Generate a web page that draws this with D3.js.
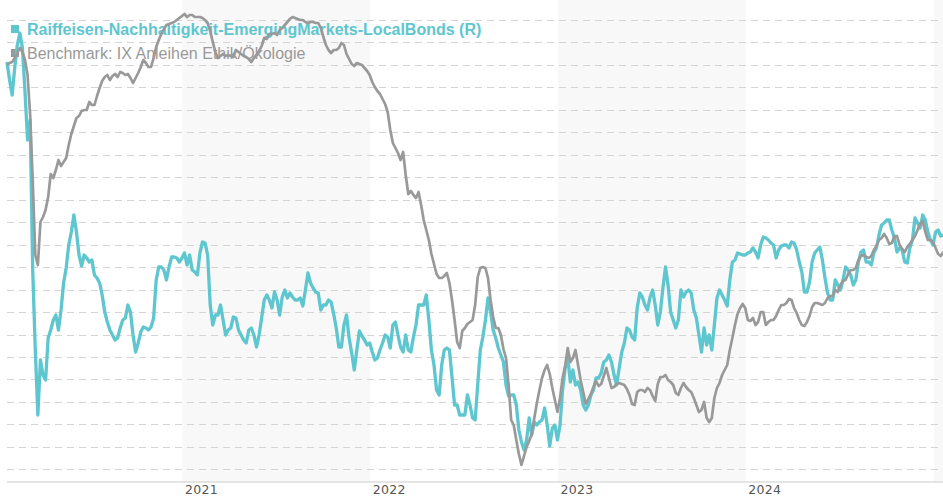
<!DOCTYPE html>
<html>
<head>
<meta charset="utf-8">
<script src="https://cdn.jsdelivr.net/npm/d3@7"></script>
<style>
  html, body { margin: 0; padding: 0; background: #ffffff; }
  svg { display: block; }
</style>
</head>
<body>
<svg id="chart" width="943" height="500"></svg>
<script>
// ---------- DATA ----------
const seriesNames = [
  "Raiffeisen-Nachhaltigkeit-EmergingMarkets-LocalBonds (R)",
  "Benchmark: IX Anleihen Ethik/Ökologie"
];
const startDate = "2020-01-26";   // first observation
const stepDays = 5;               // observations every 5 days
const yearLabels = ["2021", "2022", "2023", "2024"];
const shadedYears = ["2021", "2023", "2025"];

// values (arbitrary index units, no y labels shown)
const fundValues = [
  420, 402, 387, 414, 437, 449, 434, 390, 342, 362,
  212, 132, 67, 122, 107, 102, 144, 152, 162, 167,
  152, 172, 199, 214, 237, 250, 267, 250, 227, 216,
  227, 224, 220, 222, 207, 204, 199, 187, 170, 160,
  152, 147, 142, 144, 154, 162, 164, 177, 170, 147,
  130, 139, 150, 155, 154, 152, 155, 164, 202, 215,
  215, 212, 202, 215, 225, 225, 224, 220, 224, 229,
  217, 227, 212, 210, 207, 229, 240, 239, 227, 177,
  157, 167, 167, 177, 162, 147, 152, 154, 165, 164,
  152, 147, 142, 139, 152, 154, 147, 135, 147, 164,
  182, 187, 182, 174, 190, 182, 167, 185, 192, 184,
  189, 185, 182, 182, 184, 176, 192, 209, 199, 194,
  190, 189, 172, 177, 177, 182, 180, 168, 154, 135,
  135, 157, 167, 144, 129, 112, 132, 151, 146, 142,
  137, 139, 130, 122, 124, 132, 139, 147, 145, 134,
  157, 160, 147, 135, 130, 147, 132, 130, 145, 157,
  177, 177, 177, 187, 162, 132, 117, 92, 87, 117,
  132, 134, 132, 105, 77, 77, 67, 67, 67, 87,
  77, 64, 62, 97, 132, 145, 162, 184, 170, 152,
  144, 134, 127, 120, 97, 86, 87, 87, 77, 52,
  40, 32, 42, 64, 47, 60, 57, 60, 62, 74,
  57, 36, 54, 57, 42, 57, 92, 114, 125, 100,
  112, 97, 100, 92, 77, 72, 77, 87, 92, 104,
  104, 109, 120, 122, 127, 120, 107, 97, 114, 130,
  139, 154, 152, 145, 142, 174, 189, 185, 177, 172,
  185, 192, 177, 157, 170, 194, 215, 197, 170, 162,
  154, 162, 192, 185, 190, 192, 189, 172, 164, 147,
  130, 154, 137, 147, 132, 157, 184, 192, 187, 182,
  176, 202, 220, 222, 229, 228, 227, 227, 229, 230,
  234, 230, 224, 237, 245, 244, 242, 239, 237, 224,
  232, 236, 237, 237, 234, 240, 239, 232, 220, 210,
  190, 190, 200, 220, 229, 232, 235, 222, 204, 189,
  182, 182, 202, 197, 192, 202, 215, 212, 207, 197,
  202, 220, 230, 232, 220, 220, 217, 229, 234, 247,
  257, 259, 262, 262, 252, 244, 230, 234, 232, 220,
  219, 234, 242, 264, 259, 254, 267, 262, 250, 242,
  237, 250, 252, 246, 247
];
const benchmarkValues = [
  417, 419, 420, 424, 429, 434, 430, 422, 407, 367,
  302, 227, 217, 260, 265, 272, 285, 308, 304, 312,
  322, 316, 320, 324, 337, 348, 356, 364, 366, 371,
  372, 372, 380, 377, 377, 386, 394, 401, 405, 407,
  402, 406, 408, 405, 410, 409, 407, 408, 404, 399,
  404, 409, 415, 422, 419, 415, 415, 424, 435, 442,
  448, 453, 457, 458, 459, 460, 462, 464, 466, 468,
  465, 467, 467, 465, 465, 465, 464, 462, 459, 451,
  440, 430, 424, 426, 428, 426, 427, 426, 425, 432,
  430, 428, 426, 425, 423, 420, 424, 427, 431, 436,
  444, 443, 448, 448, 449, 447, 452, 454, 457, 460,
  463, 465, 464, 463, 462, 462, 460, 459, 460, 460,
  459, 459, 454, 445, 437, 432, 429, 432, 432, 434,
  439, 437, 428, 423, 418, 416, 419, 418, 417, 414,
  411, 407, 400, 395, 391, 388, 383, 378, 370, 352,
  339, 334, 329, 322, 330, 307, 288, 291, 287, 284,
  290, 277, 262, 252, 242, 228, 218, 208, 204, 204,
  206, 209, 199, 182, 162, 140, 134, 151, 154, 158,
  160, 162, 177, 205, 214, 215, 214, 204, 182, 165,
  154, 154, 147, 133, 124, 97, 62, 57, 42, 28,
  17, 26, 35, 41, 48, 64, 79, 92, 104, 112,
  117, 108, 94, 82, 70, 84, 104, 116, 134, 120,
  124, 132, 117, 102, 90, 78, 83, 88, 95, 101,
  96, 98, 106, 114, 104, 94, 95, 98, 99, 98,
  97, 93, 87, 78, 77, 90, 92, 92, 90, 94,
  92, 86, 81, 98, 105, 105, 107, 102, 100, 97,
  89, 87, 94, 99, 95, 92, 90, 84, 77, 70,
  72, 80, 64, 60, 64, 84, 94, 99, 107, 112,
  117, 132, 144, 157, 168, 174, 178, 174, 162, 161,
  164, 157, 160, 170, 170, 157, 160, 162, 162, 166,
  172, 177, 177, 179, 183, 182, 174, 169, 162, 157,
  156, 160, 166, 175, 179, 179, 178, 177, 179, 184,
  186, 186, 192, 190, 197, 201, 202, 208, 212, 212,
  214, 222, 226, 227, 225, 224, 226, 232, 236, 242,
  244, 248, 244, 238, 239, 246, 246, 237, 233, 230,
  235, 238, 242, 246, 252, 258, 261, 250, 242, 242,
  240, 234, 228, 226, 230
];
const yDomain = [0, 462];
const gridCount = 21;
const gridStart = 12.7;
const gridStep = 22.465;

// ---------- SETUP ----------
const W = 943, H = 500;
const plotLeft = 7, plotRight = 943.3, plotTop = 20, axisY = 482;
const colors = { fund: "#5ec6cf", bench: "#999999" };

const parse = d3.utcParse("%Y-%m-%d");
const t0 = parse(startDate);
const dates = fundValues.map((_, i) => d3.utcDay.offset(t0, i * stepDays));

const x = d3.scaleUtc().domain([dates[0], dates[dates.length - 1]]).range([plotLeft, plotRight]);
const y = d3.scaleLinear().domain(yDomain).range([axisY, plotTop]);

const svg = d3.select("#chart");

// year bands
svg.append("g").selectAll("rect").data(shadedYears).join("rect")
  .attr("x", d => x(parse(d + "-01-01")))
  .attr("y", 0)
  .attr("width", d => Math.max(0, Math.min(W, x(parse((+d + 1) + "-01-01"))) - x(parse(d + "-01-01"))))
  .attr("height", axisY)
  .attr("fill", "#f8f8f8");

// gridlines
const gridValues = d3.range(gridCount).map(k => gridStart + gridStep * k);
const gridAxis = d3.axisLeft(y).tickValues(gridValues).tickSize(-(W - plotLeft)).tickFormat("");
const gg = svg.append("g").attr("transform", `translate(${plotLeft},0)`).call(gridAxis);
gg.select(".domain").remove();
gg.selectAll(".tick line")
  .attr("stroke", "#d4d4d4")
  .attr("stroke-width", 1)
  .attr("stroke-dasharray", "7,5")
  .attr("shape-rendering", "crispEdges");

// x axis
const xAxis = d3.axisBottom(x)
  .tickValues(yearLabels.map(s => parse(s + "-01-01")))
  .tickSize(0)
  .tickFormat(d3.utcFormat("%Y"));
const xg = svg.append("g").attr("transform", `translate(0,${axisY})`).call(xAxis);
xg.select(".domain").remove();
xg.selectAll(".tick text")
  .attr("text-anchor", "start")
  .attr("dx", 2)
  .attr("y", 12)
  .attr("dy", 0)
  .attr("fill", "#555")
  .style("font-family", "'DejaVu Sans', Verdana, sans-serif")
  .style("font-size", "12.5px")
  .style("letter-spacing", "0.3px");
svg.append("line")
  .attr("x1", plotLeft).attr("x2", W)
  .attr("y1", axisY).attr("y2", axisY)
  .attr("stroke", "#dddddd").attr("stroke-width", 1.5);

// legend (drawn below the lines)
const legend = svg.append("g");
const legendItems = [
  { name: seriesNames[0], color: colors.fund, weight: "bold" },
  { name: seriesNames[1], color: colors.bench, weight: "normal" }
];
legendItems.forEach((d, i) => {
  const gy = 34.5 + i * 24;
  legend.append("rect").attr("x", 11).attr("y", gy - 9.5).attr("width", 8).attr("height", 8).attr("fill", d.color);
  legend.append("text").attr("x", 27).attr("y", gy)
    .attr("fill", d.color)
    .style("font-family", "'Liberation Sans', Arial, sans-serif")
    .style("font-size", "16px")
    .style("font-weight", d.weight)
    .text(d.name);
});

// lines
const line = d3.line().x((d, i) => x(dates[i])).y(d => y(d));
svg.append("path").datum(fundValues)
  .attr("fill", "none").attr("stroke", colors.fund).attr("stroke-width", 3.3)
  .attr("stroke-linejoin", "round").attr("d", line);
svg.append("path").datum(benchmarkValues)
  .attr("fill", "none").attr("stroke", colors.bench).attr("stroke-width", 2.7)
  .attr("stroke-linejoin", "round").attr("d", line);
</script>
</body>
</html>
